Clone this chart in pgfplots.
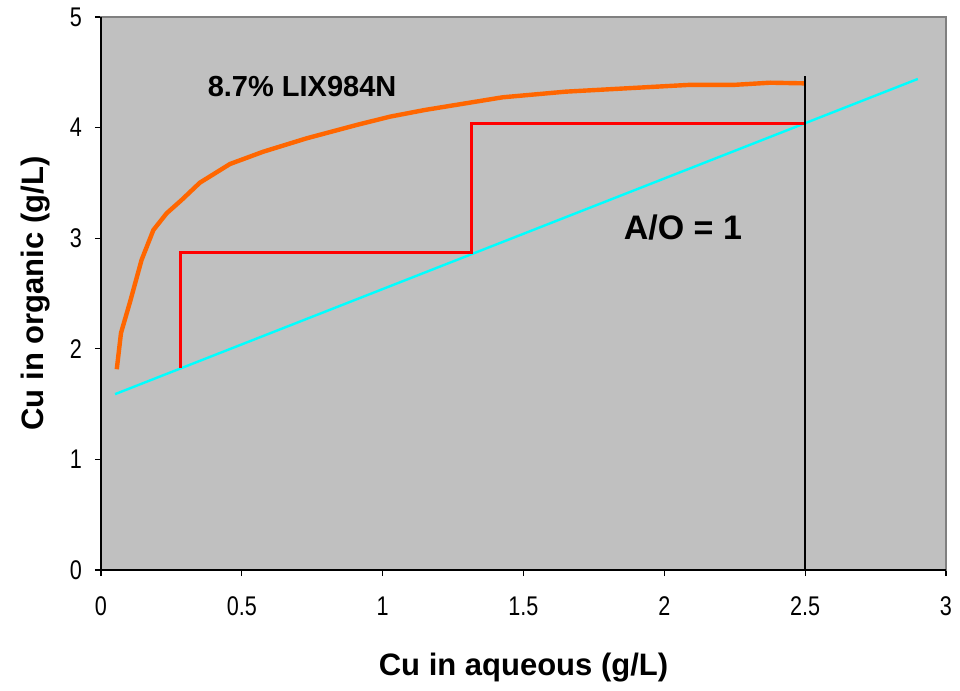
\documentclass[border=0pt]{standalone}
\usepackage{fontspec}
\setmainfont{Liberation Sans}
\newfontfamily\narrowfont[FakeStretch=0.8]{Liberation Sans}
\usepackage{pgfplots}
\pgfplotsset{compat=1.18}
\definecolor{plotgray}{HTML}{C0C0C0}
\definecolor{framegray}{HTML}{808080}
\definecolor{isoorange}{HTML}{FF6600}
\definecolor{stepred}{HTML}{FF0000}
\definecolor{opcyan}{HTML}{00FFFF}
\begin{document}
\begin{tikzpicture}
\path[use as bounding box] (-50.5pt,-60.5pt) rectangle (429.5pt,285pt);
\begin{axis}[
  scale only axis,
  width=422.5pt, height=276.5pt,
  xmin=0, xmax=3, ymin=0, ymax=5,
  xtick={0,0.5,...,3}, ytick={0,1,...,5},
  tick align=outside, tick style={black, line width=0.6pt},
  major tick length=3pt,
  xtick pos=left, ytick pos=left,
  /pgf/number format/assume math mode=true,
  tick label style={font=\narrowfont\fontsize{13.5}{16}\selectfont},
  xticklabel style={yshift=-7pt},
  yticklabel style={xshift=-3pt},
  axis line style={framegray, line width=0.8pt},
  axis background/.style={fill=plotgray},
  xlabel={\bfseries Cu in aqueous (g/L)},
  ylabel={\bfseries Cu in organic (g/L)},
  label style={font=\fontsize{15.5}{18}\selectfont},
  xlabel style={at={(axis description cs:0.5,-0.177)}, anchor=center},
  ylabel style={at={(axis description cs:-0.078,0.5)}, anchor=center},
  clip=false,
]
% operating line, slope A/O = 1
\addplot[opcyan, line width=1.2pt] coordinates {(0.05,1.59) (2.9,4.44)};
% McCabe-Thiele stages
\addplot[stepred, line width=1.5pt] coordinates {
  (0.284,1.824) (0.284,2.875) (1.314,2.875) (1.314,4.04) (2.5,4.04)};
% extraction isotherm
\addplot[isoorange, line width=2.2pt] coordinates {
  (0.056,1.815) (0.071,2.143) (0.103,2.423) (0.144,2.803) (0.186,3.074)
  (0.233,3.225) (0.286,3.345) (0.351,3.502) (0.458,3.671) (0.576,3.782)
  (0.730,3.903) (0.908,4.024) (1.026,4.099) (1.149,4.159) (1.426,4.274)
  (1.650,4.325) (2.086,4.386) (2.245,4.386) (2.376,4.406) (2.5,4.40)};
% feed concentration
\addplot[black, line width=0.7pt] coordinates {(2.5,0) (2.5,4.47)};
% black left and bottom axis lines
\draw[black, line width=0.8pt] (rel axis cs:0,1) -- (rel axis cs:0,0) -- (rel axis cs:1,0);
\node[font=\bfseries\fontsize{14.5}{17}\selectfont] at (axis cs:0.714,4.37) {8.7\% LIX984N};
\node[font=\bfseries\fontsize{17}{20}\selectfont] at (axis cs:2.066,3.10) {A/O = 1};
\end{axis}
\end{tikzpicture}
\end{document}
